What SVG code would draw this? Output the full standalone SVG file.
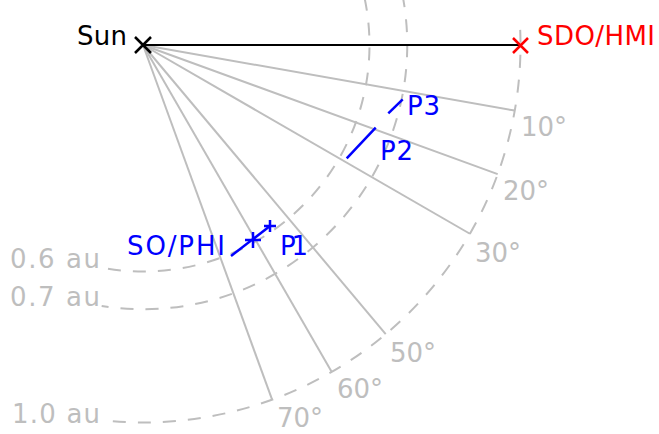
<svg xmlns="http://www.w3.org/2000/svg" width="659" height="434" viewBox="0 0 659 434">
<style>
.g{stroke:#bebebe;stroke-width:2;fill:none}
.d{stroke:#bebebe;stroke-width:2;fill:none;stroke-dasharray:13 12}
.t{font-family:"DejaVu Sans","Liberation Sans",sans-serif;font-size:26px}
.gt{fill:#bebebe}
.b{stroke:#0000ff;stroke-width:2.5;fill:none}
</style>
<rect width="659" height="434" fill="#fff"/>
<g id="arcs">
<path class="d" d="M364.55,-2.09 A226.5,226.5 0 0 1 103.67,268.06"/>
<path class="d" d="M402.4,-5.42 A264.25,264.25 0 0 1 101.66,306"/>
<path class="d" d="M520.2,29.85 A377.5,377.5 0 0 1 103.54,420.4"/>
</g>
<g id="connectors">
<line class="g" x1="143" y1="45" x2="514.8" y2="110.6"/>
<line class="g" x1="143" y1="45" x2="497.7" y2="174.1"/>
<line class="g" x1="143" y1="45" x2="469.9" y2="233.75"/>
<line class="g" x1="143" y1="45" x2="385.7" y2="334.2"/>
<line class="g" x1="143" y1="45" x2="331.75" y2="371.9"/>
<line class="g" x1="143" y1="45" x2="272.1" y2="399.7"/>
<line x1="143" y1="45" x2="520.5" y2="45" stroke="#000" stroke-width="2"/>
</g>
<g id="labels" class="t gt">
<text x="521" y="136" textLength="46">10°</text>
<text x="503" y="200" textLength="46">20°</text>
<text x="475" y="262" textLength="46">30°</text>
<text x="390" y="362" textLength="46">50°</text>
<text x="337" y="398" textLength="46">60°</text>
<text x="277" y="427" textLength="46">70°</text>
<text x="10" y="268" textLength="90">0.6 au</text>
<text x="10" y="306" textLength="90">0.7 au</text>
<text x="12" y="423" textLength="88">1.0 au</text>
</g>
<g id="sun">
<path d="M135,37 L151,53 M151,37 L135,53" stroke="#000" stroke-width="2.5"/>
<text class="t" x="77" y="45" textLength="50" fill="#000">Sun</text>
</g>
<g id="sdo">
<path d="M513,38 L528,53 M528,38 L513,53" stroke="#ff0000" stroke-width="2.5"/>
<text class="t" x="537" y="45" textLength="118" fill="#ff0000">SDO/HMI</text>
</g>
<g id="p3">
<line class="b" x1="388.3" y1="113.3" x2="402.7" y2="99.3"/>
<text class="t" x="407" y="115" textLength="33" fill="#0000ff">P3</text>
</g>
<g id="p2">
<line class="b" x1="346.7" y1="158.3" x2="375.7" y2="127.7"/>
<text class="t" x="380" y="160" textLength="33" fill="#0000ff">P2</text>
</g>
<g id="p1">
<line class="b" x1="231" y1="256" x2="270" y2="226"/>
<path class="b" d="M264,226 L276,226 M270,220 L270,232"/>
<text class="t" x="280" y="255" textLength="28" fill="#0000ff">P1</text>
</g>
<g id="sophi">
<path class="b" d="M245,240 L261,240 M253,232 L253,248"/>
<text class="t" x="127" y="255" textLength="98" fill="#0000ff">SO/PHI</text>
</g>
</svg>
